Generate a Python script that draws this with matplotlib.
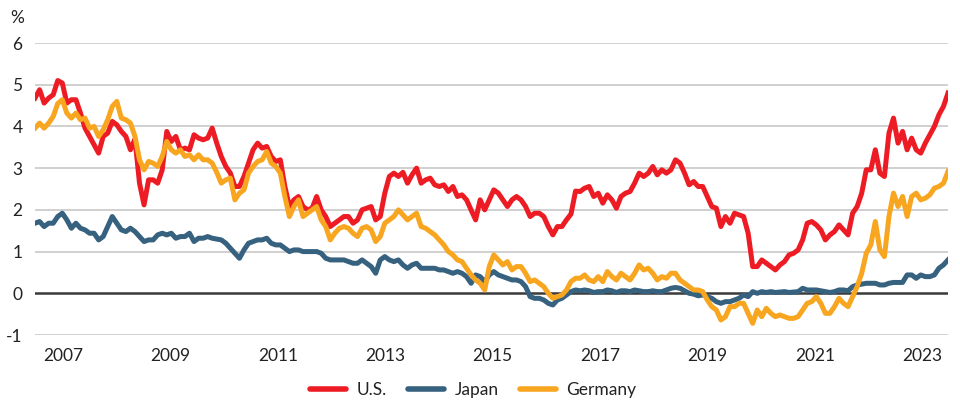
import numpy as np
import matplotlib
matplotlib.use("Agg")
import matplotlib.pyplot as plt

plt.rcParams['font.family'] = ['Lato', 'DejaVu Sans']

# monthly readings, Jan 2007 .. Oct 2023 (10-year government bond yields, %)
us = [4.68, 4.88, 4.56, 4.68, 4.76, 5.1, 5.04, 4.56, 4.64, 4.64, 4.32, 3.96,
      3.76, 3.56, 3.36, 3.76, 3.84, 4.12, 4.04, 3.88, 3.76, 3.44, 3.7, 2.64,
      2.12, 2.72, 2.72, 2.64, 2.96, 3.88, 3.64, 3.76, 3.44, 3.48, 3.44, 3.8,
      3.72, 3.68, 3.72, 3.96, 3.6, 3.28, 3.04, 2.88, 2.56, 2.56, 2.8, 3.12,
      3.44, 3.6, 3.48, 3.52, 3.28, 3.16, 3.2, 2.56, 2.08, 2.24, 2.32, 2.08,
      2.0, 2.04, 2.32, 2.0, 1.84, 1.6, 1.68, 1.76, 1.84, 1.84, 1.68, 1.76,
      2.0, 2.04, 2.08, 1.76, 1.84, 2.4, 2.8, 2.88, 2.8, 2.9, 2.64, 2.84,
      3.0, 2.64, 2.72, 2.76, 2.6, 2.56, 2.6, 2.44, 2.56, 2.32, 2.36, 2.24,
      2.0, 1.76, 2.24, 2.0, 2.24, 2.48, 2.4, 2.24, 2.08, 2.24, 2.32, 2.24,
      2.08, 1.84, 1.92, 1.92, 1.84, 1.6, 1.4, 1.6, 1.6, 1.76, 1.9, 2.45,
      2.44, 2.52, 2.56, 2.32, 2.4, 2.16, 2.36, 2.24, 2.04, 2.32, 2.4, 2.44,
      2.64, 2.88, 2.8, 2.88, 3.04, 2.84, 2.96, 2.88, 2.96, 3.2, 3.12, 2.88,
      2.6, 2.68, 2.56, 2.56, 2.32, 2.08, 2.04, 1.6, 1.84, 1.68, 1.92, 1.88,
      1.84, 1.44, 0.64, 0.64, 0.8, 0.72, 0.64, 0.56, 0.68, 0.76, 0.92, 0.96,
      1.04, 1.28, 1.68, 1.72, 1.64, 1.52, 1.28, 1.4, 1.48, 1.64, 1.52, 1.4,
      1.92, 2.08, 2.4, 2.96, 2.96, 3.44, 2.88, 2.8, 3.84, 4.2, 3.6, 3.88,
      3.44, 3.72, 3.44, 3.36, 3.6, 3.8, 4.0, 4.28, 4.48, 4.8]

japan = [1.68, 1.72, 1.6, 1.68, 1.68, 1.84, 1.92, 1.76, 1.56, 1.68, 1.56, 1.52,
         1.44, 1.44, 1.28, 1.36, 1.6, 1.84, 1.68, 1.52, 1.48, 1.56, 1.48, 1.36,
         1.24, 1.28, 1.28, 1.4, 1.44, 1.4, 1.44, 1.32, 1.36, 1.36, 1.44, 1.24,
         1.32, 1.32, 1.36, 1.32, 1.3, 1.28, 1.2, 1.08, 0.96, 0.84, 1.04, 1.2,
         1.24, 1.28, 1.28, 1.32, 1.2, 1.16, 1.16, 1.08, 1.0, 1.04, 1.04, 1.0,
         1.0, 1.0, 1.0, 0.96, 0.84, 0.8, 0.8, 0.8, 0.8, 0.76, 0.72, 0.72,
         0.8, 0.72, 0.64, 0.48, 0.8, 0.88, 0.8, 0.76, 0.8, 0.68, 0.6, 0.68,
         0.72, 0.6, 0.6, 0.6, 0.6, 0.56, 0.56, 0.52, 0.48, 0.52, 0.48, 0.4,
         0.24, 0.44, 0.4, 0.28, 0.44, 0.52, 0.44, 0.4, 0.36, 0.32, 0.32, 0.28,
         0.16, -0.08, -0.12, -0.12, -0.16, -0.24, -0.28, -0.16, -0.12, -0.04, 0.04, 0.08,
         0.06, 0.08, 0.06, 0.02, 0.04, 0.04, 0.08, 0.06, 0.02, 0.06, 0.06, 0.04,
         0.08, 0.06, 0.04, 0.04, 0.06, 0.04, 0.04, 0.08, 0.12, 0.14, 0.12, 0.06,
         0.0, -0.02, -0.06, -0.04, -0.08, -0.12, -0.2, -0.24, -0.2, -0.2, -0.16, -0.12,
         -0.04, -0.08, 0.04, 0.0, 0.04, 0.02, 0.04, 0.02, 0.03, 0.04, 0.02, 0.03,
         0.04, 0.12, 0.08, 0.08, 0.08, 0.06, 0.04, 0.02, 0.04, 0.08, 0.08, 0.06,
         0.16, 0.2, 0.22, 0.24, 0.24, 0.24, 0.2, 0.2, 0.24, 0.26, 0.26, 0.26,
         0.44, 0.44, 0.36, 0.44, 0.4, 0.4, 0.44, 0.6, 0.68, 0.8]

germany = [3.96, 4.08, 3.96, 4.08, 4.24, 4.55, 4.64, 4.32, 4.2, 4.32, 4.16, 4.2,
           3.96, 4.0, 3.76, 3.92, 4.16, 4.48, 4.6, 4.2, 4.16, 4.08, 3.76, 3.2,
           2.96, 3.16, 3.12, 3.04, 3.28, 3.64, 3.44, 3.36, 3.44, 3.28, 3.32, 3.2,
           3.32, 3.2, 3.2, 3.12, 2.9, 2.64, 2.72, 2.76, 2.24, 2.4, 2.48, 2.88,
           3.04, 3.16, 3.2, 3.4, 3.12, 3.04, 2.88, 2.32, 1.84, 2.08, 2.24, 1.84,
           1.92, 2.0, 2.08, 1.76, 1.6, 1.28, 1.44, 1.56, 1.6, 1.56, 1.44, 1.36,
           1.56, 1.6, 1.52, 1.24, 1.36, 1.68, 1.76, 1.84, 2.0, 1.88, 1.76, 1.84,
           1.92, 1.6, 1.56, 1.48, 1.4, 1.28, 1.16, 1.0, 0.92, 0.8, 0.76, 0.6,
           0.44, 0.32, 0.24, 0.08, 0.64, 0.92, 0.8, 0.68, 0.76, 0.56, 0.64, 0.64,
           0.48, 0.28, 0.32, 0.24, 0.16, 0.0, -0.12, -0.08, -0.04, 0.08, 0.28, 0.36,
           0.36, 0.44, 0.32, 0.28, 0.4, 0.28, 0.52, 0.4, 0.32, 0.48, 0.4, 0.32,
           0.48, 0.68, 0.56, 0.6, 0.48, 0.32, 0.4, 0.36, 0.48, 0.48, 0.32, 0.24,
           0.16, 0.08, 0.08, 0.04, -0.16, -0.32, -0.4, -0.64, -0.56, -0.32, -0.32, -0.24,
           -0.24, -0.48, -0.72, -0.4, -0.56, -0.36, -0.48, -0.56, -0.52, -0.56, -0.6, -0.6,
           -0.56, -0.4, -0.24, -0.2, -0.08, -0.24, -0.48, -0.48, -0.32, -0.12, -0.24, -0.32,
           -0.08, 0.16, 0.48, 0.96, 1.16, 1.72, 1.04, 0.88, 1.84, 2.4, 2.08, 2.32,
           1.84, 2.32, 2.4, 2.24, 2.28, 2.36, 2.52, 2.56, 2.64, 2.92]

year_labels = ['2007', '2009', '2011', '2013', '2015', '2017', '2019', '2021', '2023']

t = 2007 + np.arange(len(us)) / 12

fig = plt.figure(figsize=(9.6, 4.03), dpi=100)
ax = fig.add_axes([0.0365, 0.1687, 0.951, 0.7246])

for v in range(-1, 7):
    if v == 0:
        continue
    ax.axhline(v, color='#c8c8c8', lw=1.2, zorder=0)
ax.axhline(0, color='#3a3a3a', lw=1.8, zorder=1)

ax.plot(t, us, color='#ED1C24', lw=3.6, label='U.S.', zorder=2)
ax.plot(t, japan, color='#36617F', lw=3.6, label='Japan', zorder=3)
ax.plot(t, germany, color='#F8A51F', lw=3.6, label='Germany', zorder=4)

ax.set_xlim(t[0], t[-1])
ax.set_ylim(-1, 6)
ax.set_yticks(range(-1, 7))
ax.set_yticklabels([str(v) for v in range(-1, 7)])
ax.set_xticks(np.linspace(2007.51, 2023.28, len(year_labels)))
ax.set_xticklabels(year_labels)
ax.tick_params(length=0, labelsize=12.5, colors='#222222')
ax.tick_params(axis='y', pad=9)
ax.tick_params(axis='x', pad=9)
for s in ax.spines.values():
    s.set_visible(False)

fig.text(0.011, 0.955, '%', fontsize=12.5, color='#222222', va='center')

leg = fig.legend(loc='center', bbox_to_anchor=(0.493, 0.033), ncol=3, frameon=False,
                 fontsize=12.5, handlelength=2.1, handletextpad=0.6, columnspacing=1.2)
for h in leg.get_lines():
    h.set_linewidth(4)
    h.set_solid_capstyle('round')
for txt in leg.get_texts():
    txt.set_color('#222222')

fig.savefig('out.png', dpi=100)
